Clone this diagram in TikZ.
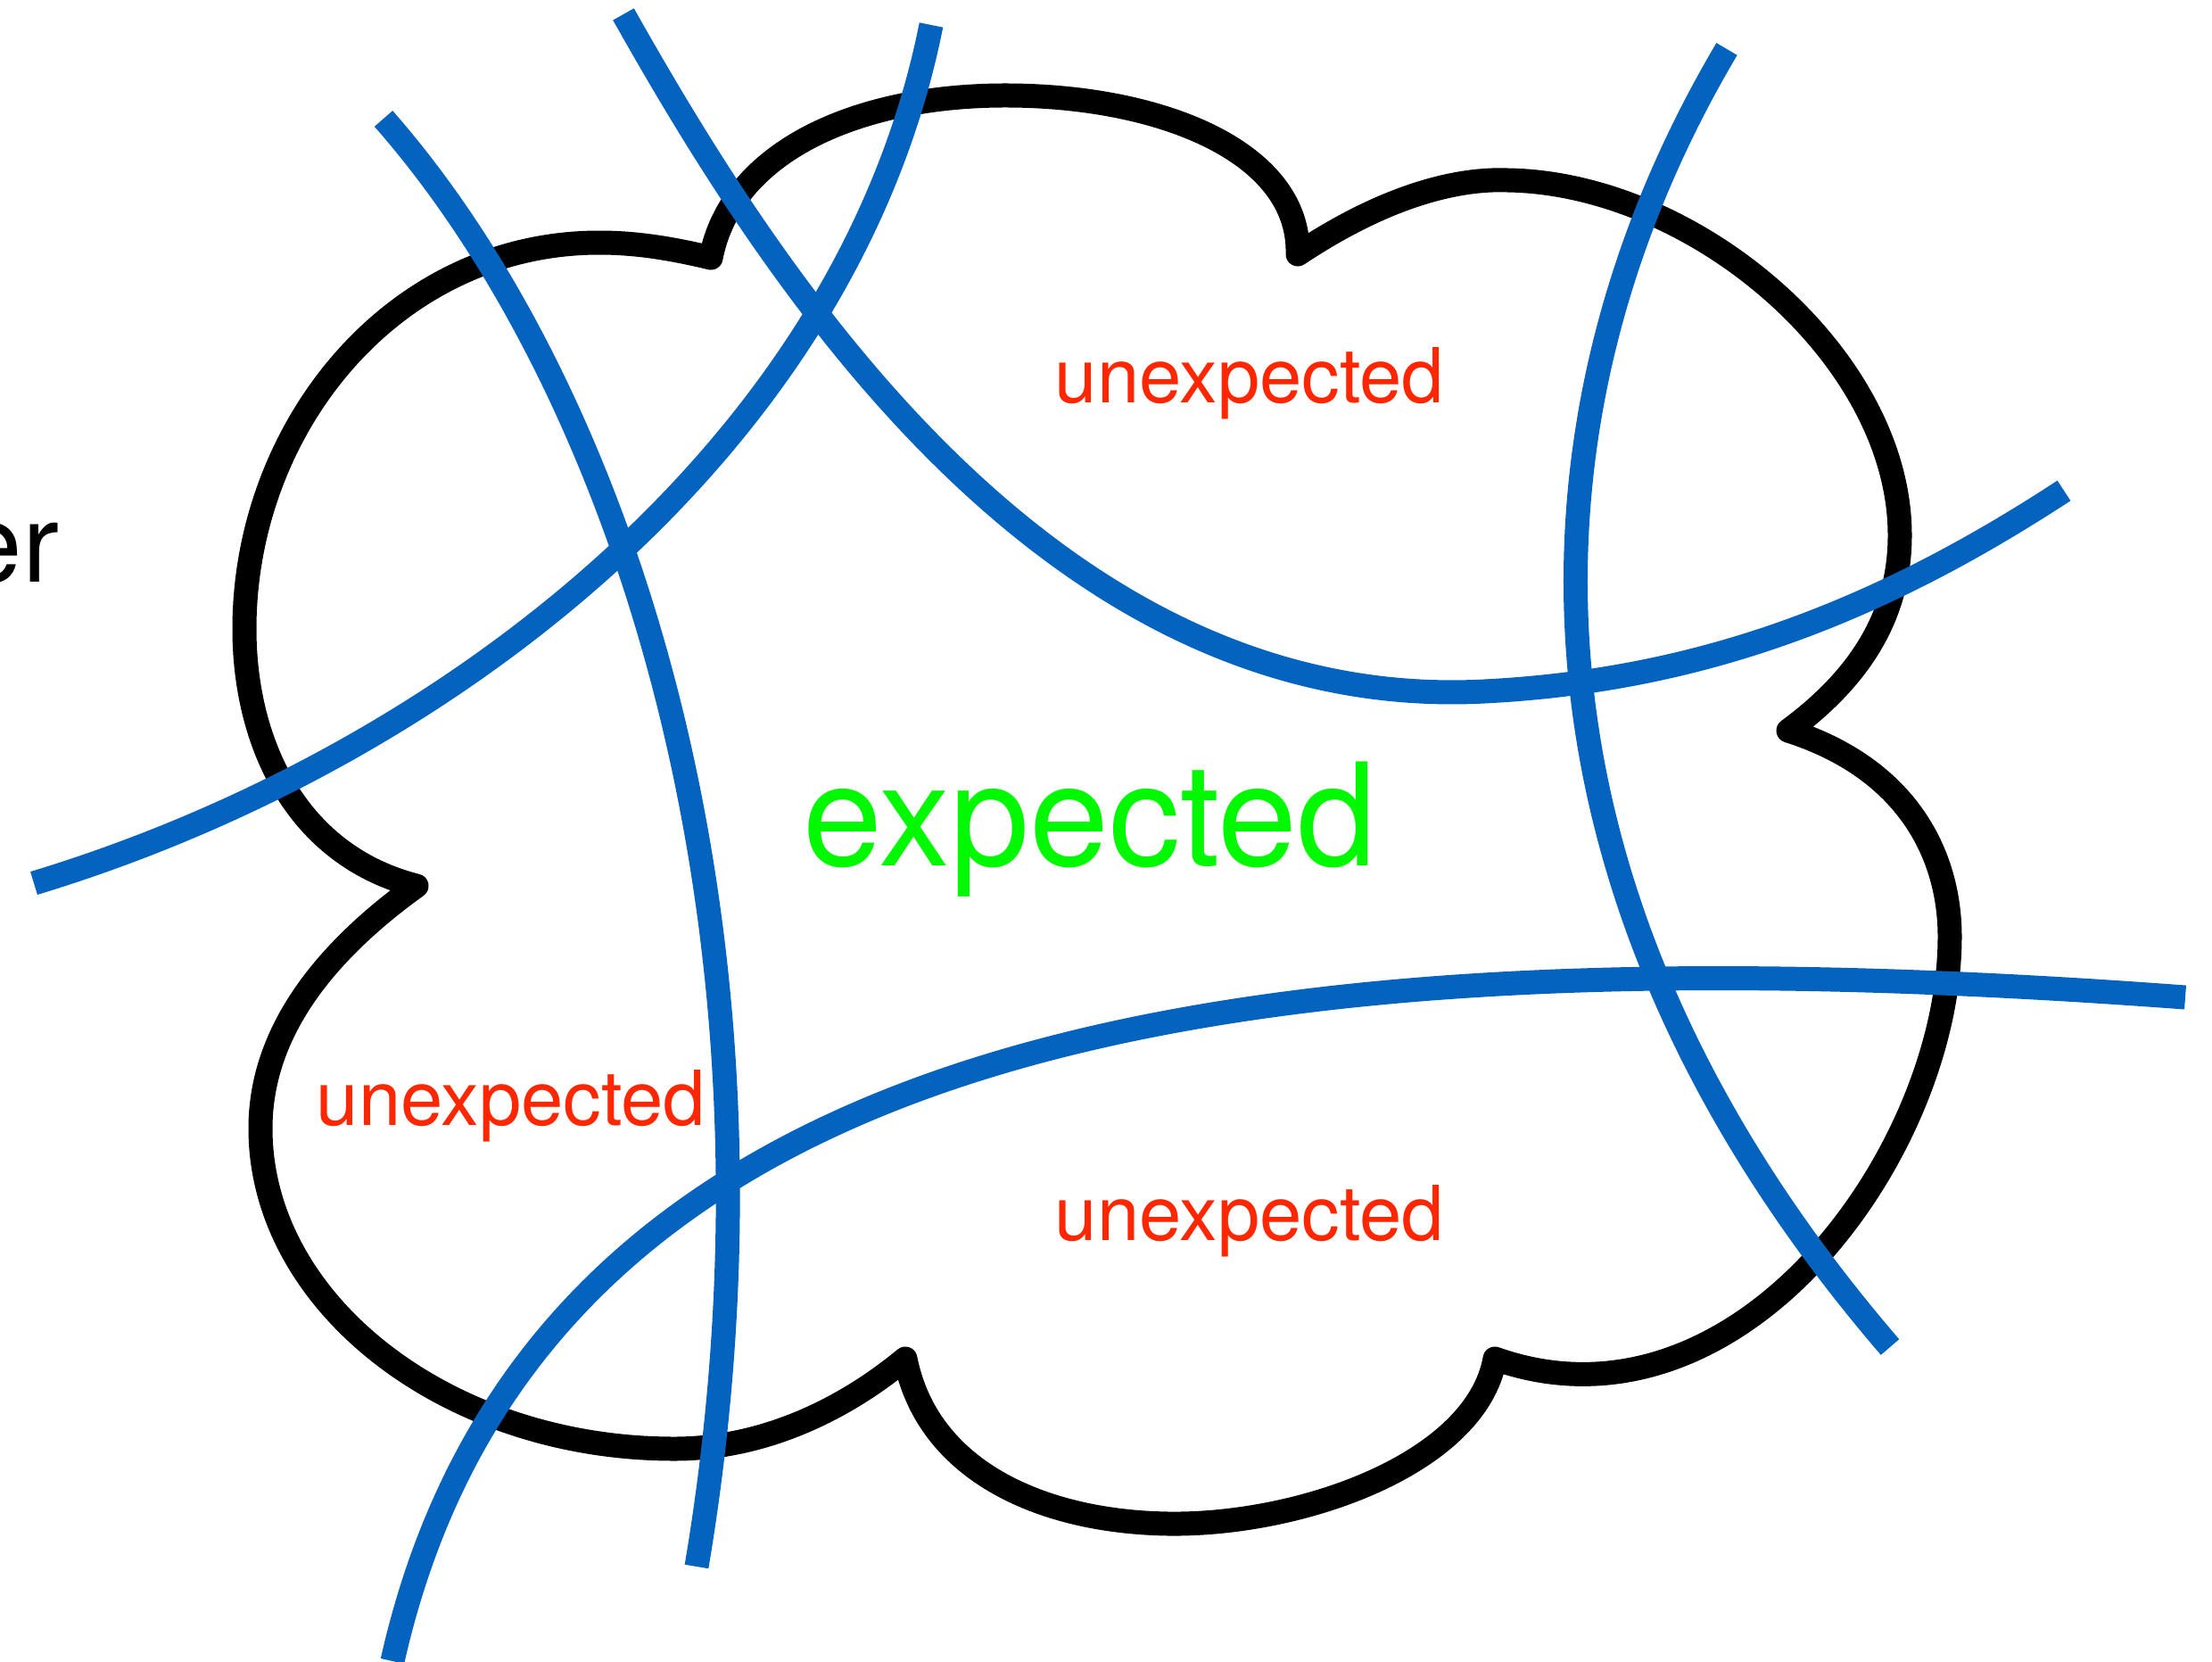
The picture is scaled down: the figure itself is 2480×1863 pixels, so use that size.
\documentclass[tikz,border=0pt]{standalone}
\usepackage{fontspec}
\setmainfont{TeX Gyre Heros}
\definecolor{cloudblue}{RGB}{5,99,192}
\definecolor{unexred}{RGB}{255,38,0}
\definecolor{expgreen}{RGB}{0,249,0}
\begin{document}
\begin{tikzpicture}[x=0.1mm,y=-0.1mm,
  cloudline/.style={draw=black,line width=2.7mm,line join=round,line cap=round},
  cut/.style={draw=cloudblue,line width=2.7mm,line cap=butt},
  unexp/.style={text=unexred,font=\fontsize{24.2}{29}\selectfont,anchor=base,inner sep=0pt},
  expt/.style={text=expgreen,font=\fontsize{45.5}{54}\selectfont,anchor=base,inner sep=0pt}]
\useasboundingbox (0,0) rectangle (2480,1863);
% cloud
\draw[cloudline] (797,289)
  .. controls (820,170) and (960,108) .. (1123,107)
  .. controls (1300,106) and (1458,170) .. (1455,285)
  .. controls (1560,215) and (1640,200) .. (1690,202)
  .. controls (1900,205) and (2130,400) .. (2130,600)
  .. controls (2130,690) and (2085,760) .. (2005,819)
  .. controls (2140,862) and (2186,960) .. (2186,1050)
  .. controls (2186,1290) and (1950,1620) .. (1676,1523)
  .. controls (1655,1640) and (1460,1710) .. (1310,1708)
  .. controls (1170,1706) and (1040,1650) .. (1015,1523)
  .. controls (940,1585) and (850,1624) .. (756,1624)
  .. controls (500,1624) and (292,1460) .. (292,1265)
  .. controls (292,1160) and (360,1070) .. (467,993)
  .. controls (330,958) and (274,830) .. (274,705)
  .. controls (274,480) and (440,272) .. (672,272)
  .. controls (715,272) and (755,279) .. cycle;
% blue cuts
\draw[cut] (38,990) .. controls (500,850) and (950,500) .. (1044,28);
\draw[cut] (430,133) .. controls (700,440) and (900,1050) .. (781,1756);
\draw[cut] (699,16) .. controls (870,320) and (1180,800) .. (1664,775)
  .. controls (1900,763) and (2100,690) .. (2314,550);
\draw[cut] (1936,55) .. controls (1690,470) and (1680,1000) .. (2119,1510);
\draw[cut] (440,1862) .. controls (600,1150) and (1400,1040) .. (2450,1118);
% texts
\node[anchor=base west,inner sep=0pt,font=\fontsize{35}{42}\selectfont] (er) at (-44,652) {er};
\node[unexp] (u1) at (1401,451) {unexpected};
\node[unexp] (u2) at (573,1261) {unexpected};
\node[unexp] (u3) at (1401,1390) {unexpected};
\node[expt] (e1) at (1222,970) {expected};
\end{tikzpicture}
\end{document}
